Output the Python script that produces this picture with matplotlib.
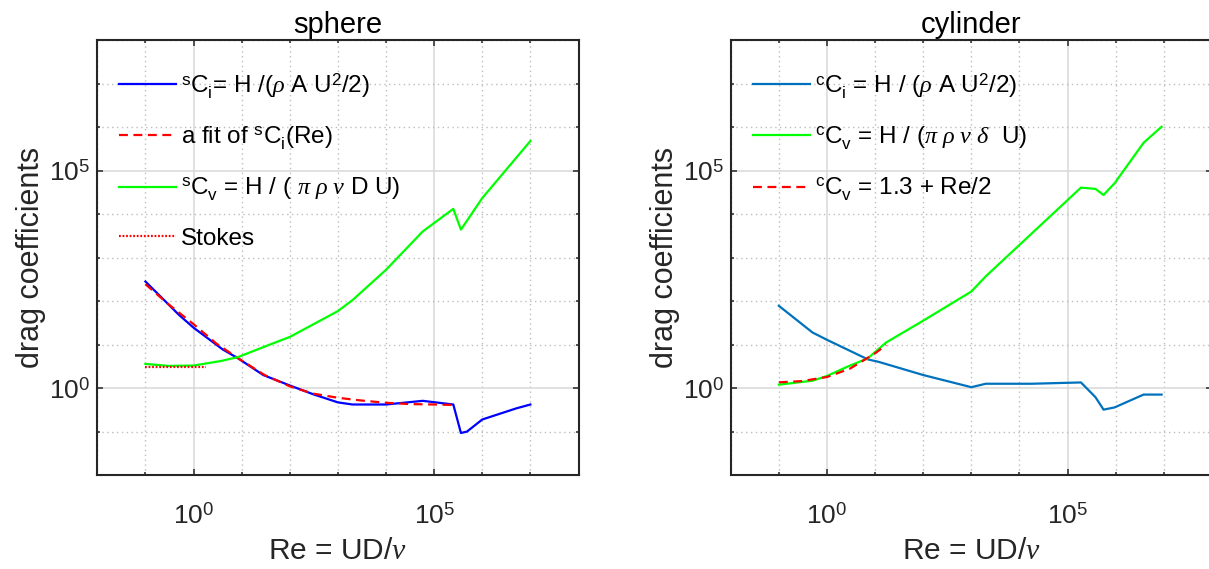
import numpy as np
import matplotlib
matplotlib.use("Agg")
import matplotlib.pyplot as plt
import matplotlib._mathtext as mathtext_internals

plt.rcParams["font.family"] = ["Liberation Sans", "DejaVu Sans"]
plt.rcParams["mathtext.fontset"] = "custom"
plt.rcParams["mathtext.rm"] = "Liberation Sans"
plt.rcParams["mathtext.sf"] = "Liberation Sans"
plt.rcParams["mathtext.it"] = "Liberation Serif:italic"
plt.rcParams["mathtext.bf"] = "Liberation Sans:bold"
# MATLAB drops subscripts a bit lower than mathtext does
mathtext_internals.FontConstantsBase.sub1 = 0.55

# sphere (Re, coefficient)
sph_ci_re = [0.1, 0.5, 1, 4, 8.5, 28, 100, 320, 1000, 2000, 1e4, 5.8e4, 2.5e5, 3.6e5, 4.8e5, 1e6, 5e6, 1e7]
sph_ci = [282, 48, 24.5, 7.8, 4.8, 2.0, 1.15, 0.71, 0.47, 0.42, 0.42, 0.51, 0.42, 0.093, 0.1, 0.19, 0.34, 0.42]
sph_fit_re = [0.1, 0.3, 1, 3, 10, 30, 100, 300, 1000, 3000, 1e4, 3e4, 1e5, 2.5e5]
sph_fit = [245, 85, 29.5, 10.5, 4.3, 2.0, 1.1, 0.75, 0.6, 0.52, 0.46, 0.43, 0.42, 0.41]
sph_cv_re = [0.1, 0.3, 1, 3.7, 8.5, 34, 100, 1000, 2000, 1e4, 5.8e4, 2.5e5, 3.6e5, 1e6, 1e7]
sph_cv = [3.6, 3.24, 3.3, 4.2, 5.2, 9.5, 15, 59, 105, 525, 4000, 13200, 4400, 23400, 480000]
stokes_re = [0.1, 1.8]
stokes = [3.0, 3.0]

# cylinder
cyl_ci_re = [0.1, 0.5, 1, 7, 12, 100, 1000, 2000, 1.8e4, 1.9e5, 3.8e5, 5.6e5, 9.5e5, 3.8e6, 9e6]
cyl_ci = [78, 19, 12.9, 4.6, 4.0, 2.0, 1.05, 1.26, 1.26, 1.35, 0.62, 0.32, 0.36, 0.71, 0.71]
cyl_cv_re = [0.1, 0.5, 1, 2.75, 7, 17, 100, 1000, 2000, 1.9e5, 3.8e5, 5.6e5, 9.5e5, 3.8e6, 9e6]
cyl_cv = [1.2, 1.48, 1.9, 3.16, 4.8, 11.2, 35.5, 166, 372, 40700, 38000, 27500, 51300, 436000, 1.02e6]
cyl_fit_re = [0.1, 0.3, 1, 3, 10, 17]
cyl_fit = [1.36, 1.45, 1.8, 2.8, 6.3, 9.8]

major = [1e0, 1e5]
major_labels = [r"$10^{0}$", r"$10^{5}$"]
decades = 10.0 ** np.arange(-2, 9)

sph_labels = [
    r"$^{\mathrm{s}}$C$_{\mathrm{i}}$= H /($\rho$ A U$^{2}$/2)",
    r"a fit of $^{\mathrm{s}}$C$_{\mathrm{i}}$(Re)",
    r"$^{\mathrm{s}}$C$_{\mathrm{v}}$ = H / ( $\pi\ \rho\ \nu$ D U)",
    "Stokes",
]
cyl_labels = [
    r"$^{\mathrm{c}}$C$_{\mathrm{i}}$ = H / ($\rho$ A U$^{2}$/2)",
    r"$^{\mathrm{c}}$C$_{\mathrm{v}}$ = H / ($\pi\ \rho\ \nu\ \delta$  U)",
    r"$^{\mathrm{c}}$C$_{\mathrm{v}}$ = 1.3 + Re/2",
]

DARK = "#262626"
LW = 1.6


def style_axes(ax, title):
    ax.set_xscale("log")
    ax.set_yscale("log")
    ax.set_xlim(1e-2, 1e8)
    ax.set_ylim(1e-2, 1e8)
    ax.set_xticks(major, major_labels)
    ax.set_yticks(major, major_labels)
    ax.set_xticks(decades, minor=True)
    ax.set_yticks(decades, minor=True)
    ax.xaxis.set_minor_formatter(plt.NullFormatter())
    ax.yaxis.set_minor_formatter(plt.NullFormatter())
    ax.grid(True, which="major", color="#d9d9d9", lw=1.1, ls="-")
    ax.grid(True, which="minor", color="#bdbdbd", lw=1.0, ls=(0, (1, 2.5)))
    ax.set_axisbelow(True)
    ax.tick_params(which="both", direction="in", top=True, right=True,
                   colors=DARK, width=1.1, labelsize=19)
    ax.tick_params(which="major", length=4)
    ax.tick_params(which="minor", length=2.5)
    ax.tick_params(axis="x", pad=20)
    ax.tick_params(axis="y", pad=5)
    for sp in ax.spines.values():
        sp.set_color(DARK)
        sp.set_linewidth(1.5)
    ax.set_title(title, fontsize=21, pad=5, color="black")
    ax.set_xlabel(r"Re = UD/$\nu$", fontsize=21.5, color=DARK, labelpad=6)
    ax.set_ylabel("drag coefficients", fontsize=22, color=DARK, labelpad=2)


fig = plt.figure(figsize=(12.09, 5.69), dpi=100)
ax1 = fig.add_axes([0.0805, 0.165, 0.398, 0.7645])
ax2 = fig.add_axes([0.6044, 0.165, 0.398, 0.7645])

ax1.plot(sph_ci_re, sph_ci, color="#0000ff", lw=LW, label=sph_labels[0])
ax1.plot(sph_fit_re, sph_fit, color="#ff0000", lw=LW, ls=(0, (4, 2.5)), label=sph_labels[1])
ax1.plot(sph_cv_re, sph_cv, color="#00ff00", lw=LW, label=sph_labels[2])
ax1.plot(stokes_re, stokes, color="#ff0000", lw=LW, ls=(0, (0.8, 0.8)), label=sph_labels[3])
style_axes(ax1, "sphere")

ax2.plot(cyl_ci_re, cyl_ci, color="#0072bd", lw=LW, label=cyl_labels[0])
ax2.plot(cyl_cv_re, cyl_cv, color="#00ff00", lw=LW, label=cyl_labels[1])
ax2.plot(cyl_fit_re, cyl_fit, color="#ff0000", lw=LW, ls=(0, (4, 2.5)), label=cyl_labels[2])
style_axes(ax2, "cylinder")

for ax in (ax1, ax2):
    ax.legend(loc="upper left", bbox_to_anchor=(0, 0.98), frameon=False,
              fontsize=17.5, handlelength=2.35, handletextpad=0.2,
              borderaxespad=0.5, borderpad=0.4, labelspacing=1.0)

fig.savefig("out.png", dpi=100)
